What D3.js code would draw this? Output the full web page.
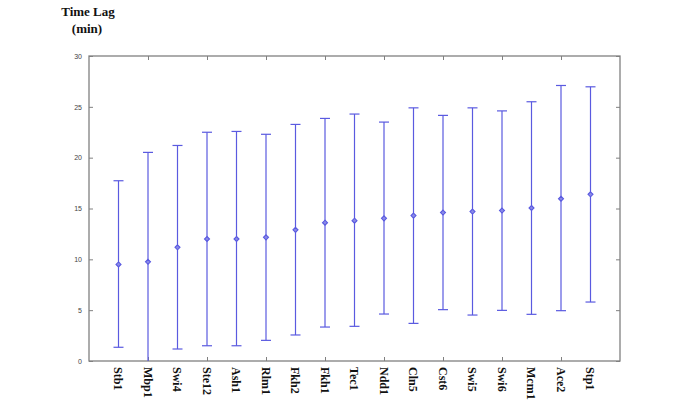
<!DOCTYPE html>
<html><head><meta charset="utf-8">
<script src="https://cdn.jsdelivr.net/npm/d3@7"></script>
<style>body{margin:0;background:#fff;}svg{display:block;}</style>
</head><body>
<script>
const categories = ["Stb1","Mbp1","Swi4","Ste12","Ash1","Rlm1","Fkh2","Fkh1","Tec1","Ndd1","Cln5","Cst6","Swi5","Swi6","Mcm1","Ace2","Stp1"];
const means = [9.5,9.76,11.18,12.0,12.0,12.16,12.9,13.6,13.8,14.03,14.3,14.6,14.7,14.8,15.05,15.96,16.4];
const lower = [1.35,0,1.18,1.5,1.5,2.03,2.56,3.34,3.41,4.62,3.7,5.05,4.52,4.98,4.59,4.95,5.8];
const upper = [17.73,20.52,21.2,22.5,22.58,22.3,23.27,23.86,24.29,23.5,24.9,24.16,24.9,24.6,25.5,27.1,26.97];
const yTicks = [0,5,10,15,20,25,30];
const xTicks = [2,4,6,8,10,12,14,16];

const W=685,H=407;
const m={left:89,right:65,top:56,bottom:46};
const svg=d3.select("body").append("svg").attr("width",W).attr("height",H);
const x=d3.scaleLinear().domain([0,18]).range([m.left,W-m.right]);
const y=d3.scaleLinear().domain([0,30]).range([H-m.bottom,m.top]);
const axCol="#808080";

svg.append("rect").attr("x",x(0)).attr("y",y(30)).attr("width",x(18)-x(0)).attr("height",y(0)-y(30))
  .attr("fill","none").attr("stroke",axCol).attr("stroke-width",1.3);

const yl=svg.append("g").attr("transform",`translate(${x(0)},0)`)
  .call(d3.axisLeft(y).tickValues(yTicks).tickSize(-4).tickPadding(7));
const yr=svg.append("g").attr("transform",`translate(${x(18)},0)`)
  .call(d3.axisRight(y).tickValues(yTicks).tickSize(-4).tickFormat(""));
const xb=svg.append("g").attr("transform",`translate(0,${y(0)})`)
  .call(d3.axisBottom(x).tickValues(xTicks).tickSize(-4).tickFormat(""));
const xt=svg.append("g").attr("transform",`translate(0,${y(30)})`)
  .call(d3.axisTop(x).tickValues(xTicks).tickSize(-4).tickFormat(""));
[yl,yr,xb,xt].forEach(g=>{
  g.select(".domain").remove();
  g.selectAll(".tick line").attr("stroke",axCol);
  g.selectAll("text").attr("font-family","Arial, Liberation Sans, sans-serif").attr("font-size",7).attr("fill","#444");
});

svg.append("g").selectAll("text").data(categories).join("text")
  .attr("transform",(d,i)=>`translate(${x(i+1)},${y(0)+6}) rotate(90)`)
  .attr("text-anchor","start").attr("dy","0.35em")
  .attr("font-family","Liberation Serif, Times New Roman, serif").attr("font-weight","bold")
  .attr("font-size",12).attr("fill","#111").text(d=>d);

const col="#5a5ae0";
const g=svg.append("g");
categories.forEach((c,i)=>{
  const cx=x(i+1);
  g.append("line").attr("x1",cx).attr("x2",cx).attr("y1",y(lower[i])).attr("y2",y(upper[i]))
    .attr("stroke",col).attr("stroke-width",1.2);
  [lower[i],upper[i]].forEach(v=>{
    if(v>0) g.append("line").attr("x1",cx-5).attr("x2",cx+5).attr("y1",y(v)).attr("y2",y(v))
      .attr("stroke",col).attr("stroke-width",1.2);
  });
  const cy=y(means[i]);
  g.append("path").attr("d",`M${cx},${cy-2.5}L${cx+2.5},${cy}L${cx},${cy+2.5}L${cx-2.5},${cy}Z`)
    .attr("fill","#8a8ae8").attr("stroke",col).attr("stroke-width",1.1);
});

const t=svg.append("text").attr("font-family","Liberation Serif, Times New Roman, serif").attr("font-weight","bold")
  .attr("font-size",13).attr("fill","#111").attr("text-anchor","middle");
t.append("tspan").attr("x",88).attr("y",16).text("Time Lag");
t.append("tspan").attr("x",87).attr("y",33).text("(min)");
</script>
</body></html>
